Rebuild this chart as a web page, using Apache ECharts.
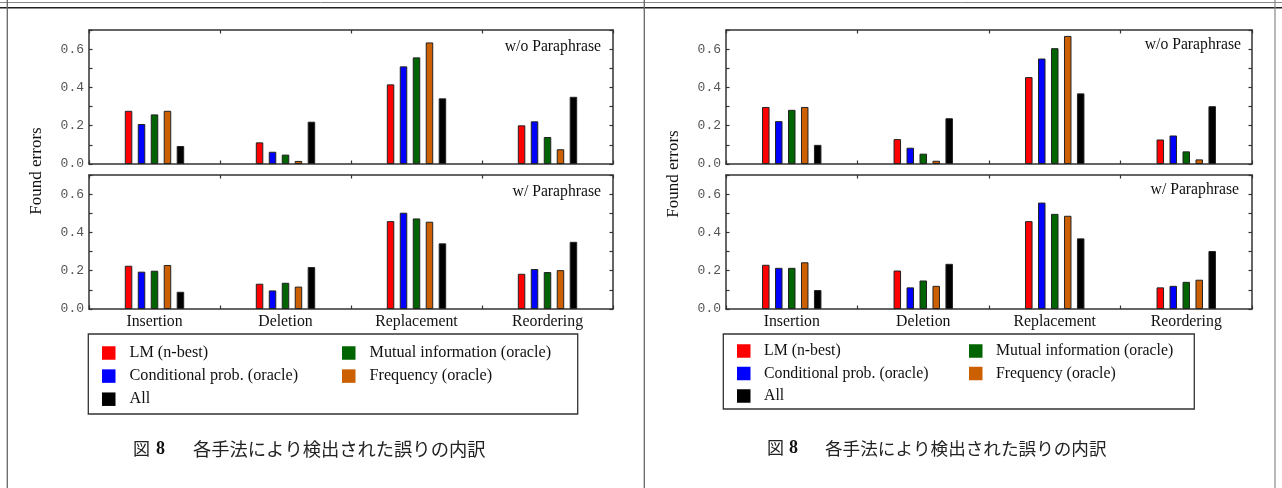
<!DOCTYPE html>
<html>
<head>
<meta charset="utf-8">
<script src="https://cdn.jsdelivr.net/npm/echarts@6/dist/echarts.min.js"></script>
<style>
html,body{margin:0;padding:0;background:#fff;}
#c{width:1282px;height:488px;}
</style>
</head>
<body>
<div id="c"></div>
<script>
// ---- data ----
const categories = ['Insertion', 'Deletion', 'Replacement', 'Reordering'];
const seriesNames = ['LM (n-best)', 'Conditional prob. (oracle)', 'Mutual information (oracle)', 'Frequency (oracle)', 'All'];
const seriesColors = ['#ff0000', '#0000ff', '#006400', '#cc5f00', '#000000'];
const yTicks = [0.0, 0.2, 0.4, 0.6];

// rows follow seriesNames order, columns follow categories
const leftTopValues = [
  [0.278, 0.113, 0.416, 0.202],
  [0.209, 0.064, 0.510, 0.223],
  [0.259, 0.049, 0.557, 0.141],
  [0.278, 0.016, 0.635, 0.077],
  [0.094, 0.221, 0.343, 0.351]
];
const leftBottomValues = [
  [0.226, 0.132, 0.459, 0.184],
  [0.195, 0.097, 0.503, 0.209],
  [0.200, 0.137, 0.473, 0.193],
  [0.230, 0.117, 0.456, 0.203],
  [0.090, 0.219, 0.343, 0.351]
];
const rightTopValues = [
  [0.298, 0.130, 0.454, 0.128],
  [0.224, 0.085, 0.551, 0.149],
  [0.283, 0.054, 0.605, 0.066],
  [0.298, 0.017, 0.669, 0.024],
  [0.100, 0.239, 0.369, 0.302]
];
const rightBottomValues = [
  [0.231, 0.201, 0.459, 0.113],
  [0.215, 0.113, 0.556, 0.121],
  [0.215, 0.149, 0.497, 0.142],
  [0.244, 0.121, 0.487, 0.153],
  [0.099, 0.236, 0.369, 0.303]
];
const panelNotes = ['w/o Paraphrase', 'w/ Paraphrase', 'w/o Paraphrase', 'w/ Paraphrase'];
const yAxisTitle = 'Found errors';
const captionFig = '図';
const captionNum = '8';
const captionText = '各手法により検出された誤りの内訳';

// ---- layout ----
const SERIF = '"Liberation Serif", "DejaVu Serif", serif';
const MONO = '"Liberation Mono", "DejaVu Sans Mono", monospace';
const CJK = '"Noto Sans CJK JP", "Noto Sans CJK SC", sans-serif';
const FRAME = '#333';

const grids = [
  {left: 89, top: 30, width: 524, height: 134},
  {left: 89, top: 175, width: 524, height: 134},
  {left: 726, top: 30, width: 526, height: 134},
  {left: 726, top: 175, width: 526, height: 134}
];
const gridValues = [leftTopValues, leftBottomValues, rightTopValues, rightBottomValues];

const xAxes = [], yAxes = [], series = [];
grids.forEach((g, gi) => {
  const isBottom = gi % 2 === 1;
  xAxes.push({
    type: 'category', gridIndex: gi, position: 'bottom', data: categories,
    axisLine: {show: true, lineStyle: {color: FRAME, width: 1.5}},
    axisTick: {show: true, inside: true, length: 3.5, lineStyle: {color: FRAME, width: 1.2}},
    axisLabel: {show: isBottom, margin: 5, color: '#111', fontFamily: SERIF, fontSize: 15.8},
    splitLine: {show: false}
  });
  xAxes.push({
    type: 'category', gridIndex: gi, position: 'top', data: categories,
    axisLine: {show: true, onZero: false, lineStyle: {color: FRAME, width: 1.5}},
    axisTick: {show: true, inside: true, length: 3.5, lineStyle: {color: FRAME, width: 1.2}},
    axisLabel: {show: false}, splitLine: {show: false}
  });
  yAxes.push({
    type: 'value', gridIndex: gi, position: 'left', min: 0, max: 0.7, interval: 0.1,
    axisLine: {show: true, lineStyle: {color: FRAME, width: 1.5}},
    axisTick: {show: true, inside: true, length: 3.5, lineStyle: {color: FRAME, width: 1.2}},
    axisLabel: {
      show: true, margin: 5, color: '#555', fontFamily: MONO, fontSize: 13,
      formatter: v => {
        const hit = yTicks.find(t => Math.abs(t - v) < 1e-6);
        return hit === undefined ? '' : hit.toFixed(1);
      }
    },
    splitLine: {show: false}
  });
  yAxes.push({
    type: 'value', gridIndex: gi, position: 'right', min: 0, max: 0.7, interval: 0.1,
    axisLine: {show: true, lineStyle: {color: FRAME, width: 1.5}},
    axisTick: {show: true, inside: true, length: 3.5, lineStyle: {color: FRAME, width: 1.2}},
    axisLabel: {show: false}, splitLine: {show: false}
  });
  const vals = gridValues[gi];
  seriesNames.forEach((name, si) => {
    series.push({
      type: 'bar', name: name, xAxisIndex: gi * 2, yAxisIndex: gi * 2,
      data: vals[si], barWidth: 7.5, barGap: '73%',
      itemStyle: {color: seriesColors[si], borderColor: '#222', borderWidth: 1},
      emphasis: {disabled: true}, animation: false
    });
  });
});

function legendBlock(names, left, top, gap, fontSize, pad) {
  return {
    orient: 'vertical', left: left, top: top, padding: 0,
    itemWidth: 13.5, itemHeight: 13.5, itemGap: gap,
    icon: 'rect', data: names, selectedMode: false,
    itemStyle: {borderWidth: 0},
    textStyle: {fontFamily: SERIF, fontSize: fontSize, color: '#111', lineHeight: 14, padding: [0, 0, 0, pad]}
  };
}
const legends = [
  legendBlock([seriesNames[0], seriesNames[1], seriesNames[4]], 102, 345, 7.1, 16.2, 9),
  legendBlock([seriesNames[2], seriesNames[3]], 342, 345, 7.1, 16.2, 9),
  legendBlock([seriesNames[0], seriesNames[1], seriesNames[4]], 737, 343, 6.5, 15.8, 8.5),
  legendBlock([seriesNames[2], seriesNames[3]], 969, 343, 6.5, 15.8, 8.5)
];

const noteText = (txt, x, y) => ({
  type: 'text', x: x, y: y,
  style: {text: txt, fill: '#111', font: '15.7px ' + SERIF, textAlign: 'right', textVerticalAlign: 'middle'}
});
const line = (x1, y1, x2, y2, color, w) => ({
  type: 'line', shape: {x1, y1, x2, y2}, style: {stroke: color, lineWidth: w}, silent: true
});

const graphics = [
  // page frame
  line(0, 2.5, 1282, 2.5, '#888', 1),
  line(0, 7.7, 1282, 7.7, '#222', 1.4),
  line(7.3, 0, 7.3, 488, '#666', 1.3),
  line(644.3, 0, 644.3, 488, '#666', 1.3),
  line(1275, 0, 1275, 488, '#888', 1.2),
  // panel notes
  noteText(panelNotes[0], 601, 47),
  noteText(panelNotes[1], 601, 192),
  noteText(panelNotes[2], 1241, 45),
  noteText(panelNotes[3], 1239, 190),
  // y-axis titles
  {type: 'text', x: 37, y: 171, rotation: Math.PI / 2,
   style: {text: yAxisTitle, fill: '#111', font: '17px ' + SERIF, textAlign: 'center', textVerticalAlign: 'middle'}},
  {type: 'text', x: 674, y: 174, rotation: Math.PI / 2,
   style: {text: yAxisTitle, fill: '#111', font: '17px ' + SERIF, textAlign: 'center', textVerticalAlign: 'middle'}},
  // legend boxes
  {type: 'rect', shape: {x: 88.3, y: 334, width: 489.4, height: 80}, style: {fill: 'none', stroke: '#333', lineWidth: 1.3}, silent: true, z: -1},
  {type: 'rect', shape: {x: 723.3, y: 334, width: 471, height: 75}, style: {fill: 'none', stroke: '#333', lineWidth: 1.3}, silent: true, z: -1},
  // captions
  {type: 'text', x: 133, y: 449, style: {text: captionFig, fill: '#222', font: '17px ' + CJK, textVerticalAlign: 'middle'}},
  {type: 'text', x: 156, y: 449, style: {text: captionNum, fill: '#111', font: 'bold 18px ' + SERIF, textVerticalAlign: 'middle'}},
  {type: 'text', x: 193, y: 449, style: {text: captionText, fill: '#222', font: '18.3px ' + CJK, textVerticalAlign: 'middle'}},
  {type: 'text', x: 767, y: 448, style: {text: captionFig, fill: '#222', font: '17px ' + CJK, textVerticalAlign: 'middle'}},
  {type: 'text', x: 789, y: 448, style: {text: captionNum, fill: '#111', font: 'bold 18px ' + SERIF, textVerticalAlign: 'middle'}},
  {type: 'text', x: 825, y: 448, style: {text: captionText, fill: '#222', font: '17.6px ' + CJK, textVerticalAlign: 'middle'}}
];

const chart = echarts.init(document.getElementById('c'), null, {renderer: 'canvas'});
chart.setOption({
  animation: false,
  backgroundColor: '#fff',
  grid: grids.map(g => Object.assign({containLabel: false}, g)),
  xAxis: xAxes,
  yAxis: yAxes,
  legend: legends,
  series: series,
  graphic: graphics
});
</script>
</body>
</html>
